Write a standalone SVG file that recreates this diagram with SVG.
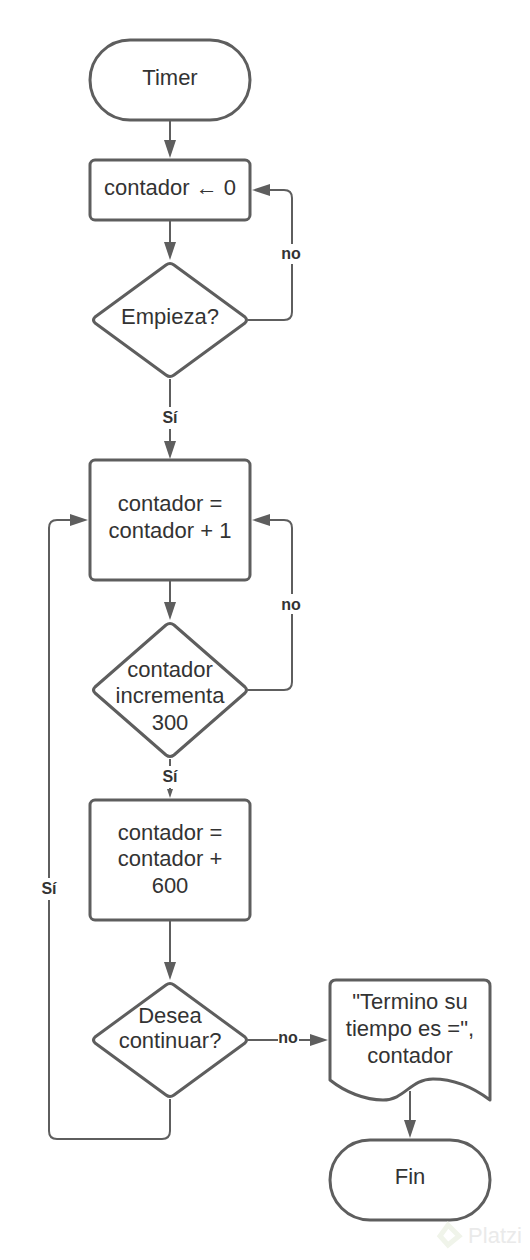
<svg xmlns="http://www.w3.org/2000/svg" width="530" height="1260" viewBox="0 0 530 1260">
<defs>
<style>
.n{fill:#fff;stroke:#5e5e5e;stroke-width:3;stroke-linejoin:round}
.c{fill:none;stroke:#5e5e5e;stroke-width:2}
.h{fill:#5e5e5e}
text{font-family:"Liberation Sans",Arial,sans-serif;fill:#333;font-size:22px;text-anchor:middle}
.l{font-size:16px;font-weight:bold}
</style>
</defs>
<rect width="530" height="1260" fill="#fff"/>
<g id="connectors">
<path class="c" d="M170 121V142"/><path class="h" d="M170 158l-6-18h12z"/>
<path class="c" d="M170 221V243"/><path class="h" d="M170 260l-6-18h12z"/>
<path class="c" d="M248 320H284Q292 320 292 312V198Q292 190 284 190H268"/><path class="h" d="M252 190l18-6v12z"/>
<path class="c" d="M170 379V442"/><path class="h" d="M170 459l-6-18h12z"/>
<path class="c" d="M170 581V603"/><path class="h" d="M170 620l-6-18h12z"/>
<path class="c" d="M248 690H284Q292 690 292 682V528Q292 520 284 520H268"/><path class="h" d="M252 520l18-6v12z"/>
<path class="c" d="M170 759V790"/><path class="h" d="M170 798l-3-9h6z"/>
<path class="c" d="M170 921V963"/><path class="h" d="M170 980l-6-18h12z"/>
<path class="c" d="M170 1099V1131Q170 1139 162 1139H57Q49 1139 49 1131V528Q49 520 57 520H72"/><path class="h" d="M88 520l-18-6v12z"/>
<path class="c" d="M248 1040H312"/><path class="h" d="M328 1040l-18-6v12z"/>
<path class="c" d="M410 1091V1122"/><path class="h" d="M410 1138l-6-18h12z"/>
</g>
<g id="labels">
<rect x="279" y="244" width="24" height="20" fill="#fff"/><text class="l" x="291" y="259">no</text>
<rect x="160" y="407" width="20" height="22" fill="#fff"/><text class="l" x="170" y="423">Sí</text>
<rect x="279" y="594" width="24" height="20" fill="#fff"/><text class="l" x="291" y="610">no</text>
<rect x="160" y="766" width="20" height="22" fill="#fff"/><text class="l" x="170" y="782">Sí</text>
<rect x="39" y="878" width="20" height="22" fill="#fff"/><text class="l" x="49" y="894">Sí</text>
<rect x="278" y="1030" width="21" height="20" fill="#fff"/><text class="l" x="288" y="1043">no</text>
</g>
<g id="timer"><rect class="n" x="90" y="40" width="160" height="80" rx="40"/><text x="170" y="85">Timer</text></g>
<g id="init"><rect class="n" x="90" y="160" width="160" height="60" rx="5"/><text x="170" y="195">contador ← 0</text></g>
<g id="empieza"><path class="n" d="M166 265Q170 262 174 265L245 317Q248 320 245 323L174 375Q170 378 166 375L95 323Q92 320 95 317Z"/><text x="170" y="324">Empieza?</text></g>
<g id="inc"><rect class="n" x="90" y="460" width="160" height="120" rx="5"/><text x="170" y="511">contador =</text><text x="170" y="538">contador + 1</text></g>
<g id="check"><path class="n" d="M166 625Q170 622 174 625L245 687Q248 690 245 693L174 755Q170 758 166 755L95 693Q92 690 95 687Z"/><text x="170" y="677">contador</text><text x="170" y="703">incrementa</text><text x="170" y="730">300</text></g>
<g id="add"><rect class="n" x="90" y="800" width="160" height="120" rx="5"/><text x="170" y="840">contador =</text><text x="170" y="866">contador +</text><text x="170" y="893">600</text></g>
<g id="continuar"><path class="n" d="M166 985Q170 982 174 985L245 1037Q248 1040 245 1043L174 1095Q170 1098 166 1095L95 1043Q92 1040 95 1037Z"/><text x="170" y="1023">Desea</text><text x="170" y="1048">continuar?</text></g>
<g id="msg"><path class="n" d="M336 980H484Q490 980 490 986V1100C470 1085 450 1079 433 1079C410 1079 405 1100 383 1100C365 1100 345 1092 330 1080V986Q330 980 336 980Z"/><text x="410" y="1009">"Termino su</text><text x="410" y="1036">tiempo es =",</text><text x="410" y="1063">contador</text></g>
<g id="fin"><rect class="n" x="330" y="1140" width="160" height="80" rx="40"/><text x="410" y="1184">Fin</text></g>
<g id="watermark"><path d="M448 1225L459 1236L448 1245L440 1236Z" fill="none" stroke="#f0f4ea" stroke-width="5"/><text x="495" y="1243" style="font-size:22px;fill:#eaeaea">Platzi</text></g>
</svg>
